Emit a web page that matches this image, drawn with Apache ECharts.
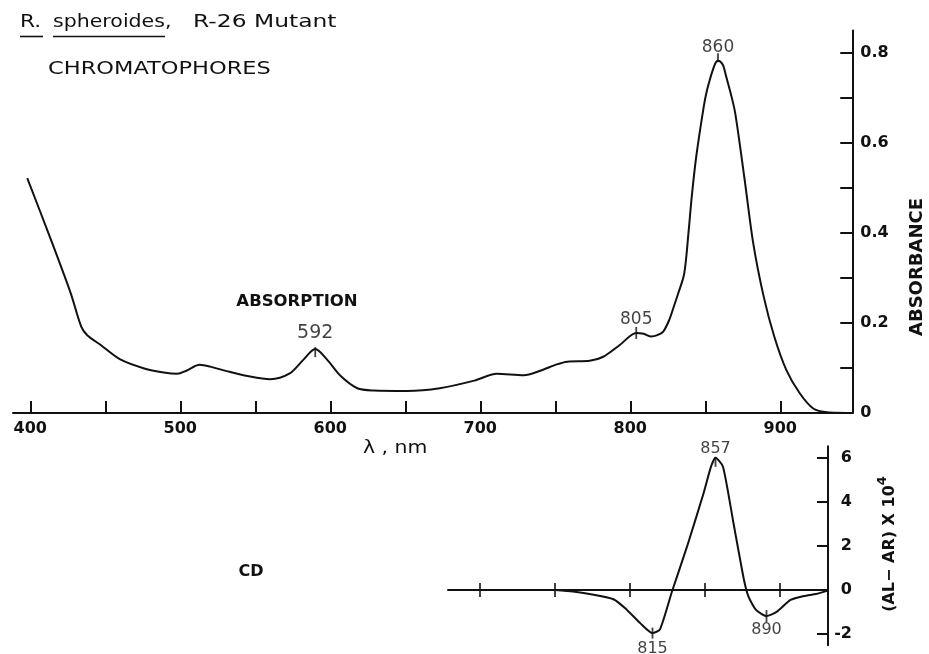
<!DOCTYPE html>
<html>
<head>
<meta charset="utf-8">
<script src="https://cdn.jsdelivr.net/npm/echarts@6/dist/echarts.min.js"></script>
<style>
html,body{margin:0;padding:0;background:#fff;}
#chart{width:929px;height:654px;}
</style>
</head>
<body>
<div id="chart"></div>
<script>
// ---- Absorption spectrum (wavelength nm, absorbance) ----
const absWavelength = [398,413,427,434,438,447,460,476,489,498,504,513,520,531,545,560,573,582,590,598,607,618,629,651,673,696,711,729,740,751,758,773,782,793,804,809,814,818,822,826,829,832,836,839,841,844,849,851,853,855,857,858.5,860,862,864,867,870,876,882,889,896,904,913,922,930,945];
const absValue      = [0.522,0.392,0.266,0.192,0.173,0.151,0.119,0.099,0.090,0.087,0.094,0.107,0.103,0.093,0.082,0.075,0.088,0.118,0.142,0.118,0.082,0.055,0.050,0.049,0.055,0.072,0.087,0.084,0.094,0.108,0.114,0.116,0.125,0.151,0.178,0.176,0.170,0.173,0.181,0.207,0.236,0.266,0.310,0.407,0.481,0.570,0.681,0.715,0.740,0.762,0.779,0.783,0.781,0.772,0.747,0.710,0.666,0.525,0.377,0.258,0.170,0.096,0.044,0.010,0.002,0.000];

// ---- CD spectrum (wavelength nm, (AL-AR) x 10^4) ----
const cdWavelength = [750,762,773,789,798,807,815,820,828,838,849,854,857,862,869,876,879,884,891,898,907,916,924,932];
const cdValue      = [0,-0.07,-0.18,-0.42,-0.9,-1.51,-1.95,-1.78,-0.07,1.96,4.37,5.58,5.98,5.58,3.02,0.45,-0.3,-0.9,-1.18,-0.98,-0.45,-0.27,-0.18,-0.03];

// ---- Peak annotations ----
const absPeakNm    = [590, 804, 858.5];
const absPeakValue = [0.142, 0.178, 0.783];
const absPeakText  = ['592', '805', '860'];
const cdPeakNm     = [815, 857, 891];
const cdPeakValue  = [-1.95, 5.98, -1.18];
const cdPeakText   = ['815', '857', '890'];

// ---- Tick values / labels ----
const absXTicks  = [400,450,500,550,600,650,700,750,800,850,900];
const absXLabels = [400,500,600,700,800,900];
const absYTicks  = [0.1,0.2,0.3,0.4,0.5,0.6,0.7,0.8];
const absYLabels = [0,0.2,0.4,0.6,0.8];
const cdXTicks   = [700,750,800,850,900];
const cdYTicks   = [-2,0,2,4,6];
const cdYLabels  = [-2,0,2,4,6];

// ---- Styles (kept apart from data) ----
const INK = '#111';
const FF = "'DejaVu Sans'";
const absPeakStyle = [
  {fs: 19, dist: 6, pos: 'top', h: 10, off: 3},
  {fs: 17, dist: 4, pos: 'top', h: 12, off: 0},
  {fs: 17, dist: 4, pos: 'top', h: 9, off: -3}
];
const cdPeakStyle = [
  {fs: 16, dist: 7, pos: 'bottom', h: 11, off: 0},
  {fs: 16, dist: 0, pos: 'top', h: 10, off: 4},
  {fs: 16, dist: 5.5, pos: 'bottom', h: 12, off: 0}
];

const absData = absWavelength.map((w, i) => [w, absValue[i]]);
const cdData = cdWavelength.map((w, i) => [w, cdValue[i]]);

function tickSeries(nms, vals, styles, xi, yi) {
  return {
    type: 'scatter', xAxisIndex: xi, yAxisIndex: yi, silent: true, z: 5,
    symbol: 'rect',
    itemStyle: {color: INK},
    data: nms.map((n, i) => ({
      value: [n, vals[i]],
      symbolSize: [1.8, styles[i].h],
      symbolOffset: [0, styles[i].off]
    }))
  };
}
function labelSeries(nms, vals, texts, styles, xi, yi) {
  return {
    type: 'scatter', xAxisIndex: xi, yAxisIndex: yi, silent: true, z: 6,
    symbolSize: 1,
    itemStyle: {color: 'rgba(0,0,0,0)'},
    data: nms.map((n, i) => ({
      value: [n, vals[i]],
      label: {
        show: true, formatter: texts[i], position: styles[i].pos,
        distance: styles[i].dist, fontSize: styles[i].fs,
        fontFamily: FF, color: INK
      }
    }))
  };
}

const axisLineStyle = {color: INK, width: 2};

const option = {
  backgroundColor: '#fff',
  animation: false,
  grid: [
    {left: 13, top: 30.5, width: 839.25, height: 382.5},
    {left: 448, top: 446.35, width: 380, height: 198.9}
  ],
  xAxis: [
    {
      gridIndex: 0, type: 'value', min: 388.5, max: 948, position: 'bottom',
      axisLine: {show: true, onZero: false, lineStyle: axisLineStyle},
      axisTick: {show: true, inside: true, length: 12, customValues: absXTicks, lineStyle: {color: INK, width: 2}},
      axisLabel: {show: true, customValues: absXLabels, margin: 8, fontSize: 16, fontWeight: 'bold', fontFamily: FF, color: INK, formatter: v => String(v)},
      splitLine: {show: false}
    },
    {
      gridIndex: 1, type: 'value', min: 678.67, max: 932, position: 'bottom',
      axisLine: {show: true, onZero: true, lineStyle: axisLineStyle},
      axisTick: {show: false},
      axisLabel: {show: false},
      splitLine: {show: false}
    }
  ],
  yAxis: [
    {
      gridIndex: 0, type: 'value', min: 0, max: 0.85, position: 'right',
      axisLine: {show: true, onZero: false, lineStyle: axisLineStyle},
      axisTick: {show: true, inside: true, length: 12, customValues: absYTicks, lineStyle: {color: INK, width: 2}},
      axisLabel: {show: true, customValues: absYLabels, margin: 8, fontSize: 16, fontWeight: 'bold', fontFamily: FF, color: INK,
        formatter: v => (v === 0 ? '0' : v.toFixed(1))},
      splitLine: {show: false}
    },
    {
      gridIndex: 1, type: 'value', min: -2.5, max: 6.5, position: 'right',
      axisLine: {show: true, onZero: false, lineStyle: axisLineStyle},
      axisTick: {show: true, inside: true, length: 11, customValues: cdYTicks, lineStyle: {color: INK, width: 2}},
      axisLabel: {show: true, customValues: cdYLabels, margin: 24, align: 'right', fontSize: 16, fontWeight: 'bold', fontFamily: FF, color: INK,
        formatter: v => String(v)},
      splitLine: {show: false}
    }
  ],
  series: [
    {
      type: 'line', xAxisIndex: 0, yAxisIndex: 0, data: absData, symbol: 'none',
      smooth: 0.3, lineStyle: {color: INK, width: 2}, silent: true
    },
    {
      type: 'line', xAxisIndex: 1, yAxisIndex: 1, data: cdData, symbol: 'none',
      smooth: 0.2, lineStyle: {color: INK, width: 2}, silent: true
    },
    {
      // crossing tick marks on the CD wavelength axis (at value 0)
      type: 'scatter', xAxisIndex: 1, yAxisIndex: 1, silent: true, z: 4,
      symbol: 'rect', symbolSize: [2, 14], itemStyle: {color: INK},
      data: cdXTicks.map(t => [t, 0])
    },
    tickSeries(absPeakNm, absPeakValue, absPeakStyle, 0, 0),
    labelSeries(absPeakNm, absPeakValue, absPeakText, absPeakStyle, 0, 0),
    tickSeries(cdPeakNm, cdPeakValue, cdPeakStyle, 1, 1),
    labelSeries(cdPeakNm, cdPeakValue, cdPeakText, cdPeakStyle, 1, 1)
  ],
  graphic: [
    {type: 'text', x: 20, y: 22, scaleX: 1.2, style: {text: 'R.', font: "18px " + FF, fill: INK, textAlign: 'left', textVerticalAlign: 'middle'}},
    {type: 'text', x: 53, y: 22, scaleX: 1.14, style: {text: 'spheroides,', font: "18px " + FF, fill: INK, textAlign: 'left', textVerticalAlign: 'middle'}},
    {type: 'text', x: 193, y: 22, scaleX: 1.3, style: {text: 'R-26 Mutant', font: "18px " + FF, fill: INK, textAlign: 'left', textVerticalAlign: 'middle'}},
    {type: 'line', shape: {x1: 20, y1: 36.5, x2: 43, y2: 36.5}, style: {stroke: INK, lineWidth: 1.6}},
    {type: 'line', shape: {x1: 53, y1: 36.5, x2: 165, y2: 36.5}, style: {stroke: INK, lineWidth: 1.6}},
    {type: 'text', x: 48, y: 69, scaleX: 1.25, style: {text: 'CHROMATOPHORES', font: "18px " + FF, fill: INK, textAlign: 'left', textVerticalAlign: 'middle'}},
    {type: 'text', x: 297, y: 302, style: {text: 'ABSORPTION', font: "bold 16.5px " + FF, fill: INK, textAlign: 'center', textVerticalAlign: 'middle'}},
    {type: 'text', x: 917, y: 267, rotation: Math.PI / 2, style: {text: 'ABSORBANCE', font: "bold 18px " + FF, fill: INK, textAlign: 'center', textVerticalAlign: 'middle'}},
    {type: 'text', x: 363, y: 449, scaleX: 1.2, style: {text: 'λ , nm', font: "17px " + FF, fill: INK, textAlign: 'left', textVerticalAlign: 'middle'}},
    {type: 'text', x: 251, y: 572, style: {text: 'CD', font: "bold 16px " + FF, fill: INK, textAlign: 'center', textVerticalAlign: 'middle'}},
    {type: 'text', x: 890, y: 544, rotation: Math.PI / 2, style: {
      text: '{m|(AL− AR) X 10}{p|4}', textAlign: 'center', textVerticalAlign: 'middle', fill: INK,
      rich: {
        m: {fontSize: 16, fontWeight: 'bold', fontFamily: FF, fill: INK, lineHeight: 28, verticalAlign: 'middle'},
        p: {fontSize: 13, fontWeight: 'bold', fontFamily: FF, fill: INK, verticalAlign: 'top'}
      }
    }}
  ]
};

const chart = echarts.init(document.getElementById('chart'), null, {renderer: 'canvas'});
chart.setOption(option);
</script>
</body>
</html>
